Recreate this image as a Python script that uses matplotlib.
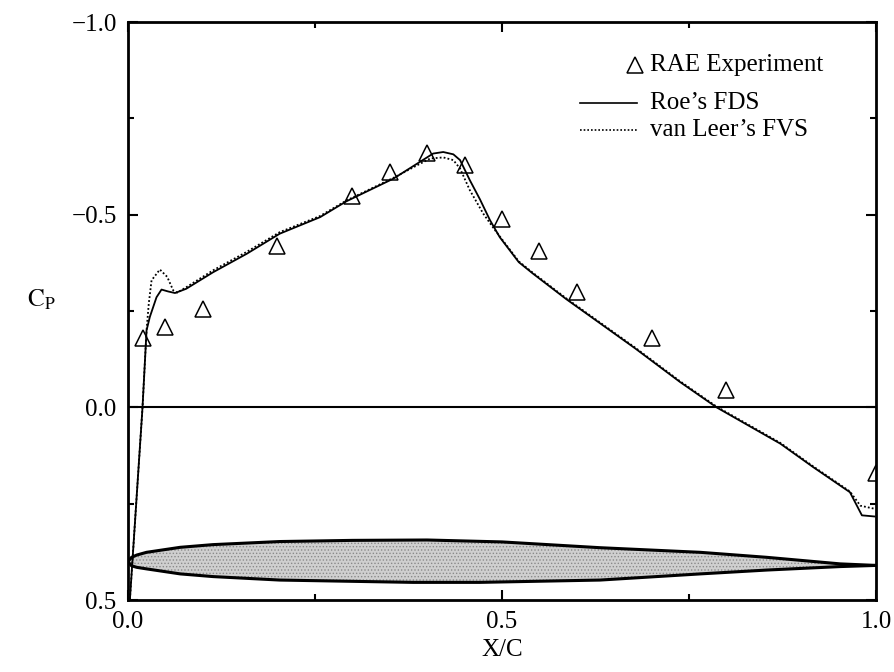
import numpy as np
import matplotlib
matplotlib.use('Agg')
import matplotlib.pyplot as plt
from matplotlib.ticker import MultipleLocator, FuncFormatter

plt.rcParams['font.family'] = ['Liberation Serif', 'DejaVu Serif']
plt.rcParams['mathtext.fontset'] = 'stix'
plt.rcParams['hatch.linewidth'] = 0.6

# RAE experiment
x_exp = [0.02, 0.05, 0.10, 0.20, 0.30, 0.35, 0.40, 0.45, 0.50, 0.55, 0.60, 0.70, 0.80, 1.00]
cp_exp = [-0.18, -0.21, -0.255, -0.42, -0.55, -0.61, -0.66, -0.63, -0.49, -0.405, -0.30, -0.18, -0.045, 0.17]

# Roe's FDS
x_roe = [0.0, 0.0196, 0.025, 0.0294, 0.0383, 0.045, 0.054, 0.063, 0.078, 0.114, 0.159, 0.203,
         0.257, 0.292, 0.355, 0.390, 0.408, 0.4215, 0.435, 0.444, 0.457, 0.4706, 0.484, 0.497,
         0.5225, 0.541, 0.586, 0.6775, 0.738, 0.787, 0.872, 0.916, 0.965, 0.981, 0.998]
cp_roe = [0.58, 0.0, -0.20, -0.235, -0.286, -0.306, -0.301, -0.297, -0.308, -0.351, -0.399, -0.451,
          -0.494, -0.535, -0.594, -0.637, -0.659, -0.663, -0.657, -0.642, -0.590, -0.540, -0.486, -0.442,
          -0.377, -0.348, -0.281, -0.154, -0.066, 0.0, 0.094, 0.155, 0.22, 0.28, 0.283]

# van Leer's FVS
x_vl = [0.0, 0.0196, 0.025, 0.028, 0.0317, 0.0428, 0.0526, 0.0606, 0.066, 0.078, 0.114, 0.159, 0.203,
        0.257, 0.292, 0.355, 0.390, 0.404, 0.4215, 0.435, 0.444, 0.457, 0.475, 0.490,
        0.5225, 0.541, 0.586, 0.6775, 0.738, 0.787, 0.872, 0.916, 0.965, 0.979, 0.998]
cp_vl = [0.58, 0.0, -0.20, -0.27, -0.33, -0.358, -0.339, -0.304, -0.298, -0.312, -0.356, -0.404, -0.455,
         -0.497, -0.537, -0.596, -0.632, -0.646, -0.649, -0.642, -0.620, -0.564, -0.503, -0.462,
         -0.379, -0.350, -0.283, -0.156, -0.068, -0.002, 0.092, 0.153, 0.218, 0.255, 0.263]

# airfoil outline, drawn in Cp units below the curves
x_up = [0.0, 0.005, 0.012, 0.025, 0.07, 0.114, 0.203, 0.3, 0.4, 0.5, 0.631, 0.765, 0.854, 0.952, 1.0]
y_up = [0.40, 0.389, 0.383, 0.376, 0.363, 0.356, 0.348, 0.345, 0.344, 0.349, 0.364, 0.376, 0.389, 0.406, 0.41]
x_lo = [0.0, 0.005, 0.012, 0.025, 0.07, 0.114, 0.203, 0.292, 0.381, 0.47, 0.631, 0.765, 0.854, 0.952, 1.0]
y_lo = [0.40, 0.411, 0.415, 0.419, 0.432, 0.439, 0.448, 0.451, 0.454, 0.454, 0.448, 0.432, 0.422, 0.413, 0.41]


def fmt(v, pos):
    return f'{v:.1f}'.replace('-', '\u2212')


fig = plt.figure(figsize=(8.94, 6.72), dpi=100)
ax = fig.add_axes([0.143, 0.107, 0.837, 0.860])

ax.fill(x_up + x_lo[::-1], y_up + y_lo[::-1], facecolor='#cfcfcf', edgecolor='#8a8a8a',
        hatch='.....', lw=0, zorder=1)
ax.plot(x_up, y_up, color='black', lw=2.2, zorder=2)
ax.plot(x_lo, y_lo, color='black', lw=2.2, zorder=2)

ax.axhline(0.0, color='black', lw=1.5, zorder=2)

ax.plot(x_roe, cp_roe, color='black', lw=1.3, zorder=3)
ax.plot(x_vl, cp_vl, color='black', lw=1.3, ls=(0, (1, 1.2)), zorder=3)
ax.plot(x_exp, cp_exp, ls='none', marker='^', ms=12, mfc='none', mec='black', mew=1.1, zorder=4)

ax.set_xlim(0.0, 1.0)
ax.set_ylim(0.5, -1.0)
ax.xaxis.set_major_locator(MultipleLocator(0.5))
ax.xaxis.set_minor_locator(MultipleLocator(0.25))
ax.yaxis.set_major_locator(MultipleLocator(0.5))
ax.yaxis.set_minor_locator(MultipleLocator(0.25))
ax.xaxis.set_major_formatter(FuncFormatter(fmt))
ax.yaxis.set_major_formatter(FuncFormatter(fmt))
ax.tick_params(which='both', direction='in', top=True, right=True, labelsize=18, width=1.5)
ax.tick_params(which='major', length=7, pad=8)
ax.tick_params(which='minor', length=4)
for s in ax.spines.values():
    s.set_linewidth(2.0)

ax.set_xlabel('X/C', fontsize=18, labelpad=4)
ax.text(-0.135, 0.52, r'$\mathrm{C_P}$', transform=ax.transAxes, fontsize=18, ha='left', va='center')

# legend
ax.plot([0.678], [0.926], transform=ax.transAxes, marker='^', ms=12, mfc='none', mec='black', mew=1.1)
ax.text(0.698, 0.926, 'RAE Experiment', transform=ax.transAxes, fontsize=18, va='center')
ax.plot([0.604, 0.680], [0.860, 0.860], transform=ax.transAxes, color='black', lw=1.2)
ax.text(0.698, 0.860, 'Roe\u2019s FDS', transform=ax.transAxes, fontsize=18, va='center')
ax.plot([0.604, 0.680], [0.813, 0.813], transform=ax.transAxes, color='black', lw=1.2, ls=(0, (1, 1.2)))
ax.text(0.698, 0.813, 'van Leer\u2019s FVS', transform=ax.transAxes, fontsize=18, va='center')

fig.savefig('out.png', dpi=100)
